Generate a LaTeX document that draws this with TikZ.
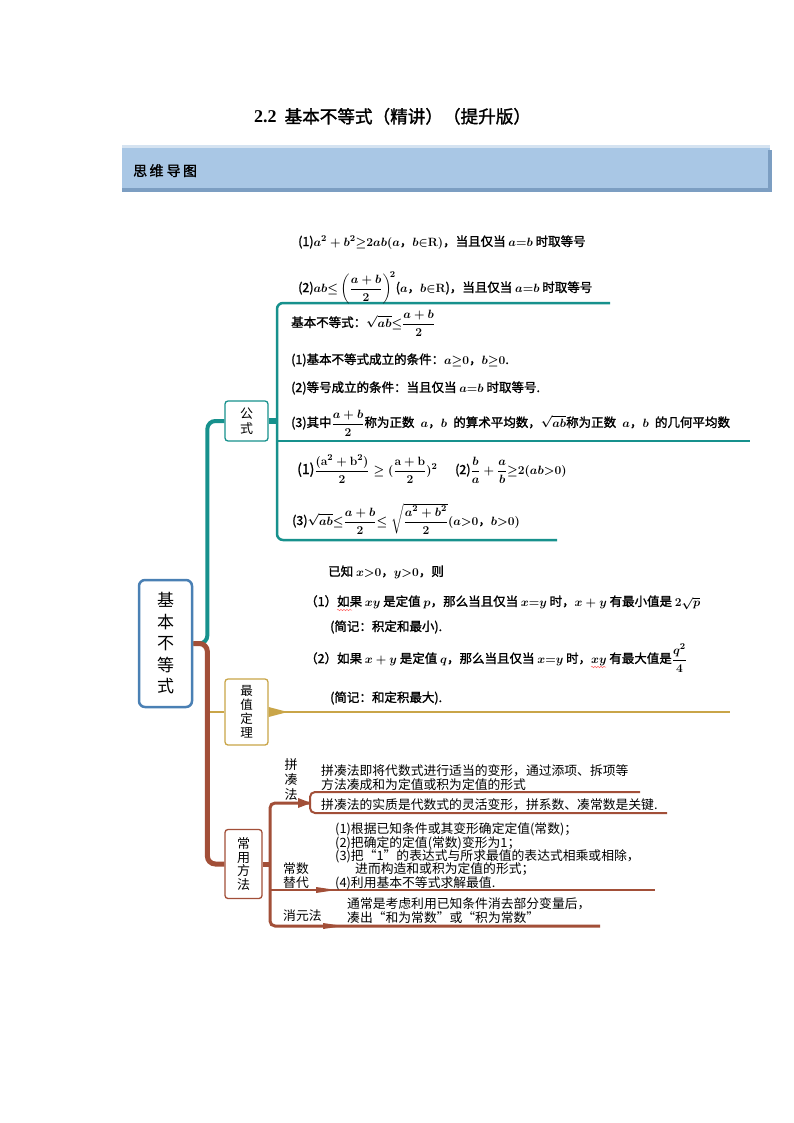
\documentclass[tikz,border=0pt]{standalone}
\usepackage{amsmath,amssymb}
\usepackage{fontspec}
\setmainfont{Liberation Serif}
\newfontfamily\cjk{Noto Sans CJK SC}
\newfontfamily\cjkb[FakeBold=1.5]{Noto Sans CJK SC}
\usetikzlibrary{positioning,decorations.pathmorphing}
\definecolor{gsteal}{HTML}{17918D}
\definecolor{cybrown}{HTML}{A24F38}
\definecolor{zdgold}{HTML}{C9A548}
\definecolor{rootblue}{HTML}{4A80B4}
\definecolor{banner}{HTML}{A9C7E5}
\definecolor{bannerdark}{HTML}{7C9EC2}
\definecolor{bannerlight}{HTML}{D5E3F1}

\tikzset{
  bold text/.style={anchor=base west, inner sep=0pt, font=\cjkb\fontsize{12.5}{15}\selectfont,
    execute at begin node=\boldmath},
  thin text/.style={anchor=base west, inner sep=0pt, font=\cjk\fontsize{12.8}{14}\selectfont},
  branch box/.style={draw, rounded corners=3pt, line width=1.3pt, fill=white, align=center, inner sep=0pt},
  teal line/.style={draw=gsteal, line width=2.5pt, rounded corners=6pt},
  brown line/.style={draw=cybrown, line width=2pt, rounded corners=5pt},
  spell mark/.style={draw=red!60, line width=0.5pt, decorate, decoration={snake, amplitude=0.7pt, segment length=3pt}},
}

\begin{document}
\begin{tikzpicture}[x=1pt,y=-1pt]
  \useasboundingbox (0,0) rectangle (794,1123);
  \fill[white] (0,0) rectangle (794,1123);

  % ======= title and banner =======
  \node[font=\cjkb\fontsize{17.6}{19}\selectfont, anchor=base west, inner sep=0pt] (title) at (254,123)
    {{\rmfamily\bfseries\fontsize{18}{19}\selectfont 2.2}\ \ 基本不等式（精讲）（提升版）};
  \fill[bannerlight] (122,145) rectangle (770,149);
  \fill[banner] (122,148) rectangle (770,188);
  \fill[bannerdark] (122,188) rectangle (772,192);
  \fill[bannerdark] (768,150) rectangle (772,192);
  \node[font=\cjkb\fontsize{14}{15}\selectfont, anchor=base west, inner sep=0pt] (bannertext) at (133,176) {思\,维\ 导\,图};

  % ======= root and branch boxes =======
  \node[draw=rootblue, line width=2.5pt, rounded corners=6pt, minimum width=53pt, minimum height=127pt,
    align=center, inner sep=0pt, font=\cjk\fontsize{17}{21.5}\selectfont] (root) at (165.5,643.5) {基\\本\\不\\等\\式};
  \node[branch box, draw=gsteal, minimum width=43pt, minimum height=40pt,
    font=\cjk\fontsize{13}{15}\selectfont] (gs) at (246.5,421) {公\\式};
  \node[branch box, draw=zdgold, minimum width=43pt, minimum height=66pt,
    font=\cjk\fontsize{12.5}{14}\selectfont] (zd) at (246.5,712) {最\\值\\定\\理};
  \node[branch box, draw=cybrown, minimum width=37pt, minimum height=69pt,
    font=\cjk\fontsize{13}{13.8}\selectfont] (cy) at (243.5,864) {常\\用\\方\\法};

  % trunks
  \draw[draw=gsteal, line width=4pt, rounded corners=8pt] (root.east) -| ([xshift=-17pt]gs.west) -- (gs.west);
  \draw[draw=zdgold, line width=2pt] ([xshift=-16pt]zd.west) -- (zd.west);
  \draw[draw=cybrown, line width=5pt, rounded corners=8pt] (root.east) -| ([xshift=-17pt]cy.west) -- (cy.west);

  % ======= 公式 =======
  \coordinate (gsJoin) at (277,421);
  \coordinate (gsTop) at (610,303);
  \coordinate (gsMid) at (750,441);
  \coordinate (gsBot) at (557,540);
  \draw[teal line] (gsTop) -- (277,303) -- (277,540) -- (gsBot);
  \draw[draw=gsteal, line width=2pt] (277,441) -- (gsMid);
  \draw[draw=gsteal, line width=6pt] (gs.east) -- (gsJoin);

  \node[bold text] (f1) at (298,246) {(1)$a^2+b^2{\geq}2ab($$a$，$b{\in}\mathbf{R})$，当且仅当 $a{=}b$ 时取等号};
  \node[bold text] (f2) at (298,292) {(2)$ab{\leq}\left(\dfrac{a+b}{2}\right)^{\!2}$($a$，$b{\in}\mathbf{R}$)，当且仅当 $a{=}b$ 时取等号};
  \node[bold text] (b1) at (291,327) {基本不等式：$\sqrt{ab}{\leq}\dfrac{a+b}{2}$};
  \node[bold text] (b2) at (291,364) {(1)基本不等式成立的条件：$a{\geq}0$，$b{\geq}0$.};
  \node[bold text] (b3) at (291,392) {(2)等号成立的条件：当且仅当 $a{=}b$ 时取等号.};
  \node[bold text] (b4) at (291,427) {(3)其中$\dfrac{a+b}{2}$称为正数\enspace$a$，$b$\enspace 的算术平均数，$\sqrt{ab}$称为正数\enspace$a$，$b$\enspace 的几何平均数};
  \node[bold text] (b5) at (297,474) {{\fontsize{14}{15}\selectfont(1)}$\dfrac{(\mathbf{a}^2+\mathbf{b}^2)}{2}\geq(\dfrac{\mathbf{a}+\mathbf{b}}{2})^2$};
  \node[bold text] (b6) at (455,474) {(2)$\dfrac{b}{a}+\dfrac{a}{b}{\geq}2(ab{>}0)$};
  \node[bold text] (b7) at (292,525) {(3)$\sqrt{ab}{\leq}\dfrac{a+b}{2}{\leq}\;\sqrt{\dfrac{a^2+b^2}{2}}(a{>}0$，$b{>}0)$};

  % ======= 最值定理 =======
  \coordinate (zdEnd) at (730,712);
  \fill[zdgold] (zd.east) ++(0,-5) -- ++(19,5) -- ++(-19,5) -- cycle;
  \draw[draw=zdgold, line width=1.6pt] (zd.east) -- (zdEnd);

  \node[bold text] (z1) at (328,576) {已知 $x{>}0$，$y{>}0$，则};
  \node[bold text] (z2) at (305,606) {（1）如果 $xy$ 是定值 $p$，那么当且仅当 $x{=}y$ 时，$x+y$ 有最小值是 $2\sqrt{p}$};
  \node[bold text] (z3) at (330,631) {(简记：积定和最小).};
  \node[bold text] (z4) at (305,663) {（2）如果 $x+y$ 是定值 $q$，那么当且仅当 $x{=}y$ 时，$xy$ 有最大值是$\dfrac{q^2}{4}$};
  \node[bold text] (z5) at (330,702) {(简记：和定积最大).};
  \draw[spell mark] (337,610) -- (352,610);
  \draw[spell mark] (591,667) -- (606,667);

  % ======= 常用方法 =======
  \coordinate (cyJoin) at (270,864);
  \coordinate (pcJoin) at (310,803);
  \coordinate (pcTop) at (640,792);
  \coordinate (pcBot) at (667,813);
  \coordinate (csEnd) at (655,890);
  \coordinate (xyEnd) at (600,926);
  \draw[draw=cybrown, line width=5pt] (cy.east) -- (cyJoin);
  \draw[brown line, line width=3pt] (pcJoin) -- (270,803) -- (270,926) -- (xyEnd);
  \draw[brown line] (pcTop) -- (310,792) -- (310,813) -- (pcBot);
  \draw[draw=cybrown, line width=2pt] (270,890) -- (csEnd);
  \fill[cybrown] (298,798) -- (311,803) -- (298,808) -- cycle;
  \fill[cybrown] (316,887) -- (336,890) -- (316,893) -- cycle;
  \fill[cybrown] (323,923) -- (343,926) -- (323,929) -- cycle;

  \node[align=center, inner sep=0pt, font=\cjk\fontsize{13}{15}\selectfont] (pc) at (291,780) {拼\\凑\\法};
  \node[thin text] (cs1) at (283,873) {常数};
  \node[thin text] (cs2) at (283,887) {替代};
  \node[thin text] (xy) at (283,920) {消元法};

  \node[thin text] (p1) at (321,775) {拼凑法即将代数式进行适当的变形，通过添项、拆项等};
  \node[thin text] (p2) at (321,789) {方法凑成和为定值或积为定值的形式};
  \node[thin text] (p3) at (321,809) {拼凑法的实质是代数式的灵活变形，拼系数、凑常数是关键.};
  \node[thin text] (c1) at (335,833) {(1)根据已知条件或其变形确定定值(常数)；};
  \node[thin text] (c2) at (335,847) {(2)把确定的定值(常数)变形为1；};
  \node[thin text] (c3) at (335,860) {(3)把“1”的表达式与所求最值的表达式相乘或相除，};
  \node[thin text] (c4) at (355,873) {进而构造和或积为定值的形式；};
  \node[thin text] (c5) at (335,887) {(4)利用基本不等式求解最值.};
  \node[thin text] (x1) at (347,908) {通常是考虑利用已知条件消去部分变量后，};
  \node[thin text] (x2) at (347,922) {凑出“和为常数”或“积为常数”};
\end{tikzpicture}
\end{document}
